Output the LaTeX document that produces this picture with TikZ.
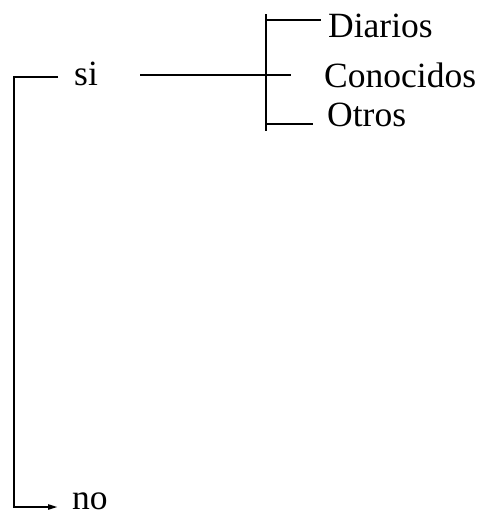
\documentclass[tikz,border=0pt]{standalone}
\usepackage{fontspec}
\setmainfont{Liberation Serif}
\usetikzlibrary{arrows.meta}
\begin{document}
\begin{tikzpicture}[x=1pt,y=-1pt,
  lbl/.style={anchor=base west,inner sep=0pt,font=\fontsize{35.5}{42}\selectfont},
  ln/.style={line width=2.2pt,line cap=butt}]
\useasboundingbox (0,0) rectangle (485,517);
% labels
\node[lbl] (si) at (74,85) {si};
\node[lbl] (no) at (72,509) {no};
\node[lbl] (diarios) at (328,37) {Diarios};
\node[lbl] (conocidos) at (324,87) {Conocidos};
\node[lbl] (otros) at (327,126) {Otros};
% coordinates
\coordinate (lt) at (14,77);
\coordinate (lb) at (14,507);
\coordinate (ltE) at (58,77);
\coordinate (lbE) at (58,507);
\coordinate (siS) at (140,75);
\coordinate (siE) at (291,75);
\coordinate (bt) at (266,14);
\coordinate (bb) at (266,131);
\coordinate (bd) at (266,20);
\coordinate (bdE) at (321,20);
\coordinate (bo) at (266,124);
\coordinate (boE) at (313,124);
% connectors
\draw[ln] (ltE) -- (lt) -- (14,508);
\draw[ln,-{Triangle[length=10pt,width=5pt]}] (lb) -- (lbE);
\draw[ln] (siS) -- (siE);
\draw[ln] (bt) -- (bb);
\draw[ln] (bd) -- (bdE);
\draw[ln] (bo) -- (boE);
\end{tikzpicture}
\end{document}
